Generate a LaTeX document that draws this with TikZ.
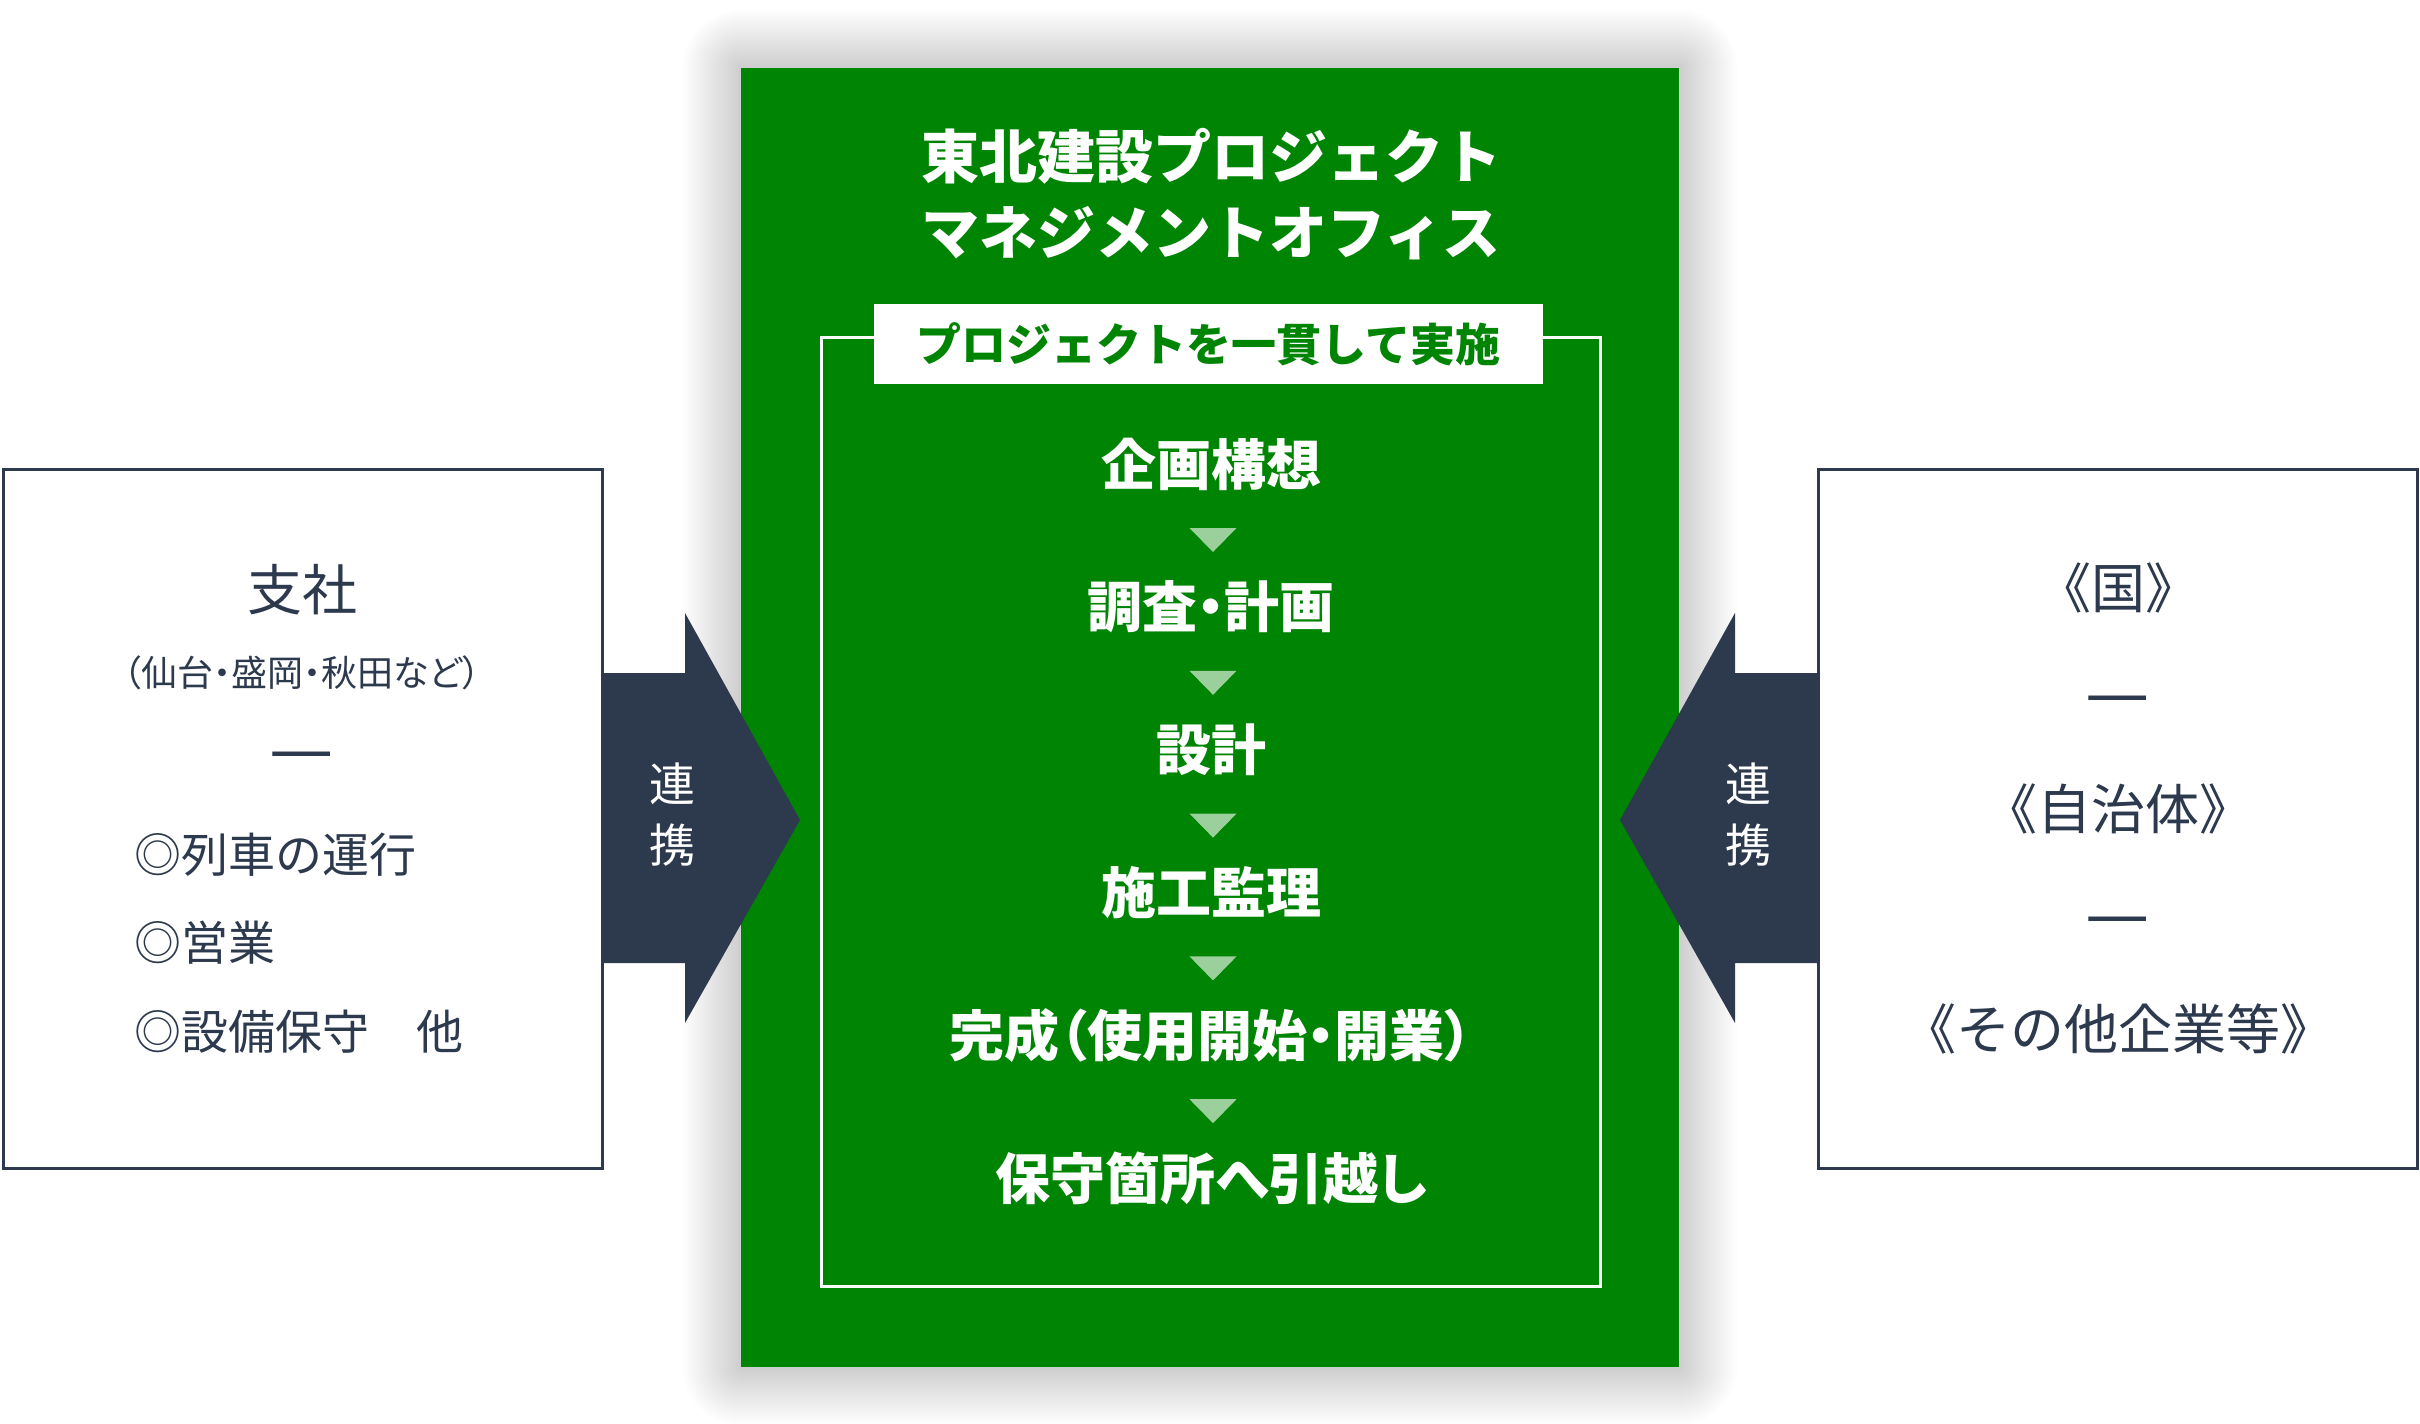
\documentclass[tikz,border=0pt]{standalone}
\usepackage{fontspec}
\setmainfont{Noto Sans CJK JP}
\newfontfamily\paltfont{Noto Sans CJK JP}[RawFeature=+palt]
\usetikzlibrary{positioning, backgrounds}
\definecolor{pmogreen}{RGB}{0,132,4}
\definecolor{stepgreen}{RGB}{155,207,155}
\definecolor{navy}{RGB}{45,57,77}

\begin{document}
\begin{tikzpicture}[x=0.5pt, y=-0.5pt,
    sidebox/.style={draw=navy, line width=1.5pt, fill=white, minimum width=299.5pt, minimum height=349.5pt, inner sep=0pt},
    sidetext/.style={text=navy, inner sep=0pt, font=\fontsize{27}{30}\selectfont},
    sidedash/.style={text=navy, inner sep=0pt, font=\fontsize{36}{38}\selectfont},
    stepnode/.style={text=white, inner sep=0pt, font=\paltfont\bfseries\fontsize{27.5}{32}\selectfont},
    stepmark/.style={fill=stepgreen},
    linkarrow/.style={fill=navy},
    linktext/.style={text=white, align=center, inner sep=0pt, font=\fontsize{23}{30.5}\selectfont}]
    \useasboundingbox (0,0) rectangle (2420,1424);
    %\draw (0,0) grid[step=100] (2420,1424);

    % project office
    \node[fill=pmogreen, minimum width=469pt, minimum height=649.5pt, inner sep=0pt] (office) at (1210,717.5) {};
    \foreach \k in {1,...,24}
    {%
        \scoped[on background layer]
        \fill[black, opacity=0.008, rounded corners={\k*1.2pt}]
            ([shift={(-\k*2.4,-\k*2.4)}]office.north west) rectangle ([shift={(\k*2.4,\k*2.4)}]office.south east);
    }
    \node[text=white, align=center, inner sep=0pt, font=\bfseries\fontsize{29}{38}\selectfont] (title) at (1211,194)
        {東北建設プロジェクト\\マネジメントオフィス};
    \node[draw=white, line width=1.5pt, minimum width=389.5pt, minimum height=474.75pt, inner sep=0pt] (flow) at (1211,812) {};
    \node[fill=white, minimum width=334.5pt, minimum height=40pt, inner sep=0pt, text=pmogreen,
        font=\bfseries\fontsize{22.5}{26}\selectfont] (motto) at (1208.5,344) {プロジェクトを一貫して実施};

    \foreach \txt [count=\i] in {企画構想, 調査・計画, 設計, 施工監理, 完成（使用開始・開業）, 保守箇所へ引越し}
    {%
        \node[stepnode] (step\i) at (1211, {464+142.8*(\i-1)}) {\txt};
    }
    \foreach \i in {1,...,5}
    {%
        \fill[stepmark] (1189.5, {528+142.8*(\i-1)}) -- ++(47,0) -- ++(-23.5,24) -- cycle;
    }

    % branch offices
    \node[sidebox] (branch) at (302.5,818.5) {};
    \node[sidetext, font=\fontsize{27.5}{32}\selectfont] (branchname) at (302,590) {支社};
    \node[sidetext, font=\paltfont\fontsize{18}{21}\selectfont] (branchsub) at (302,673) {（仙台・盛岡・秋田など）};
    \node[sidedash] (branchdash) at (302,763) {—};
    \node[sidetext, anchor=west, font=\fontsize{23.5}{28}\selectfont] (task1) at (134,855) {◎列車の運行};
    \node[sidetext, anchor=west, font=\fontsize{23.5}{28}\selectfont] (task2) at (134,943) {◎営業};
    \node[sidetext, anchor=west, font=\fontsize{23.5}{28}\selectfont] (task3) at (134,1032) {◎設備保守　他};

    % partners
    \node[sidebox] (partners) at (2117.5,818.5) {};
    \node[sidetext] (state) at (2118,588) {《国》};
    \node[sidedash] (dash1) at (2118,707) {—};
    \node[sidetext] (local) at (2118,809) {《自治体》};
    \node[sidedash] (dash2) at (2118,928) {—};
    \node[sidetext] (others) at (2118,1029) {《その他企業等》};

    % links
    \fill[linkarrow] (601,673) -- (685,673) -- (685,613) -- (800,820) -- (685,1023) -- (685,963) -- (601,963) -- cycle;
    \node[linktext] (linkL) at (672,815) {連\\携};
    \fill[linkarrow] (1819,673) -- (1735,673) -- (1735,613) -- (1620,820) -- (1735,1023) -- (1735,963) -- (1819,963) -- cycle;
    \node[linktext] (linkR) at (1748,815) {連\\携};
\end{tikzpicture}
\end{document}
